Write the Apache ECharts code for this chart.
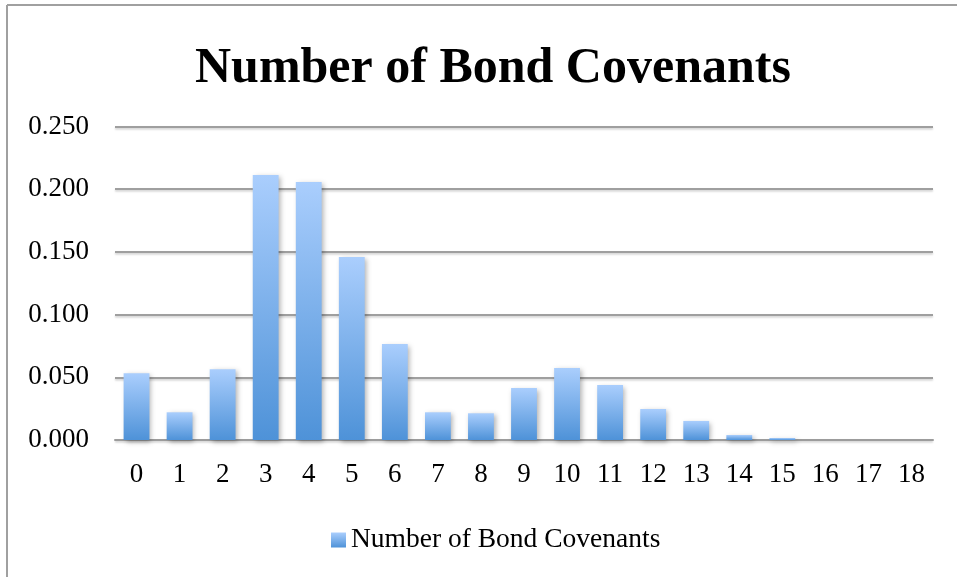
<!DOCTYPE html>
<html>
<head>
<meta charset="utf-8">
<script src="https://cdn.jsdelivr.net/npm/echarts@6/dist/echarts.min.js"></script>
<style>
html,body{margin:0;padding:0;background:#fff;}
#chart{width:957px;height:577px;}
</style>
</head>
<body>
<div id="chart"></div>
<script>
const titleText = 'Number of Bond Covenants';
const seriesName = 'Number of Bond Covenants';
const categories = ['0','1','2','3','4','5','6','7','8','9','10','11','12','13','14','15','16','17','18'];
const values = [0.0532,0.0221,0.0564,0.2113,0.2057,0.1459,0.0766,0.0221,0.0213,0.0415,0.0574,0.0439,0.0247,0.0152,0.004,0.0016,0,0,0];
const yMin = 0, yMax = 0.25, yStep = 0.05;

const FONT = '"Liberation Serif", "Times New Roman", serif';
const chart = echarts.init(document.getElementById('chart'), null, {renderer:'canvas'});
const gradient = new echarts.graphic.LinearGradient(0,0,0,1,[
  {offset:0,color:'#aacefd'},
  {offset:1,color:'#4e92d8'}
]);
chart.setOption({
  animation:false,
  backgroundColor:'#ffffff',
  title:{
    text:titleText,
    left:190,
    top:39,
    textStyle:{fontFamily:FONT,fontWeight:'bold',fontSize:50,lineHeight:50,color:'#000'}
  },
  graphic:[
    {type:'line',shape:{x1:7,y1:5,x2:957,y2:5},style:{stroke:'#a0a0a0',lineWidth:2}},
    {type:'line',shape:{x1:7,y1:5,x2:7,y2:577},style:{stroke:'#a0a0a0',lineWidth:2}}
  ],
  legend:{
    left:326,
    top:521,
    itemWidth:15,
    itemHeight:15,
    itemGap:10,
    icon:'rect',
    textStyle:{fontFamily:FONT,fontSize:27.5,color:'#000',padding:[0,0,0,0]},
    data:[seriesName]
  },
  grid:{left:115,right:24,top:126.5,bottom:137,containLabel:false},
  xAxis:{
    type:'category',
    data:categories,
    axisLine:{lineStyle:{color:'#9c9c9c',width:2}},
    axisTick:{show:false},
    axisLabel:{fontFamily:FONT,fontSize:27,color:'#000',margin:21}
  },
  yAxis:{
    type:'value',
    min:yMin,max:yMax,interval:yStep,
    axisLine:{show:false},
    axisTick:{show:false},
    axisLabel:{fontFamily:FONT,fontSize:27,color:'#000',margin:26,formatter:v=>v.toFixed(3)},
    splitLine:{lineStyle:{color:'#9f9f9f',width:2,shadowColor:'rgba(0,0,0,0.2)',shadowBlur:2,shadowOffsetY:1.5}}
  },
  series:[{
    name:seriesName,
    type:'bar',
    data:values,
    barCategoryGap:'40%',
    itemStyle:{color:gradient,shadowColor:'rgba(0,0,0,0.3)',shadowBlur:5,shadowOffsetX:2,shadowOffsetY:2}
  }]
});
</script>
</body>
</html>
